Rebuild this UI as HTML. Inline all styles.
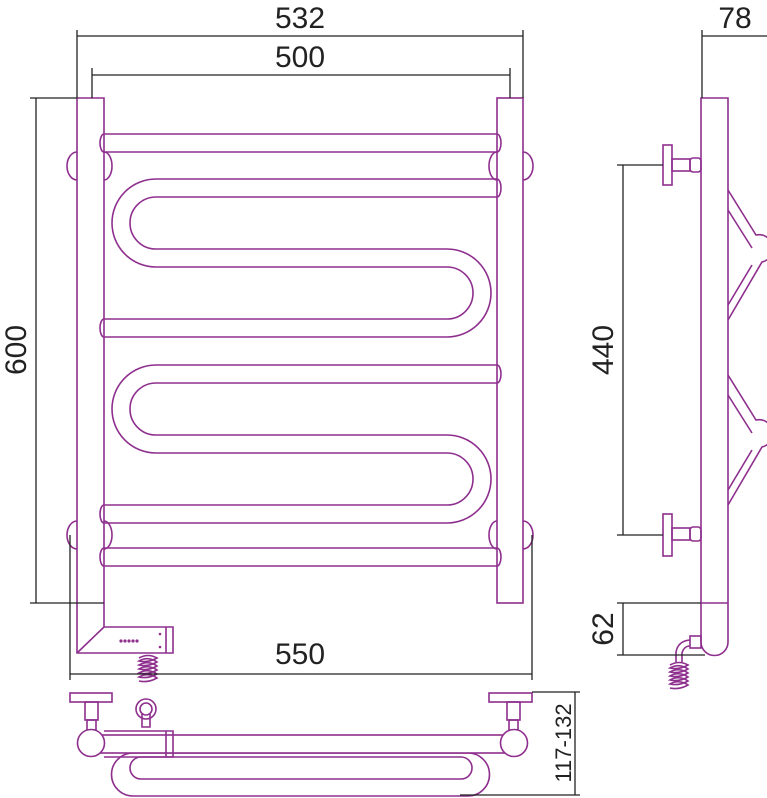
<!DOCTYPE html>
<html><head><style>html,body{margin:0;padding:0;background:#fff}svg{display:block}</style></head>
<body>
<svg width="767" height="798" viewBox="0 0 767 798" xmlns="http://www.w3.org/2000/svg">
<defs>
<g id="ser" fill="none">
<path d="M497,179 H156 A44,44 0 0 0 156,267 H447 A26,26 0 0 1 447,319 H104"/>
<path d="M497,197 H156 A26,26 0 0 0 156,249 H447 A44,44 0 0 1 447,337 H104"/>
<path d="M497,179 A4,9 0 0 1 497,197 M104,319 A4,9 0 0 0 104,337"/>
</g>
<g id="rail" fill="none">
<path d="M104,0 H497 M104,18 H497 M104,0 A4,9 0 0 0 104,18 M497,0 A4,9 0 0 1 497,18"/>
</g>
<g id="coil" fill="none">
<path d="M-9,0 Q0,-5 9,0 Q0,5 -9,3 Q0,-2 9,4 Q0,9 -9,7 Q0,2 9,8 Q0,13 -9,11 Q0,6 9,12 Q0,17 -9,15 Q0,10 9,16 Q0,21 -9,19 Q0,14 9,20 Q0,25 -9,23"/>
</g>
</defs>

<g stroke="#8e2f8e" stroke-width="1.6" fill="none">
<path d="M77,98 H104 V627 M77,98 V653 H173 V627 H104 M77,653 L104,627 M166,627 V653"/>
<rect x="497" y="98" width="26" height="505"/>
<path d="M77,152 A10,14 0 0 0 77,180 M104,152 A8,14 0 0 1 104,180 M497,152 A8,14 0 0 0 497,180 M523,152 A10,14 0 0 1 523,180"/>
<path d="M77,521 A10,14 0 0 0 77,549 M104,521 A8,14 0 0 1 104,549 M497,521 A8,14 0 0 0 497,549 M523,521 A10,14 0 0 1 523,549"/>
<use href="#rail" transform="translate(0,134)"/>
<use href="#ser"/>
<use href="#ser" transform="translate(0,186)"/>
<use href="#rail" transform="translate(0,548)"/>
<use href="#coil" transform="translate(148,658)"/>

<!-- top view -->
<path d="M133,753 H468 A21.5,21.5 0 0 1 468,796 H133 A21.5,21.5 0 0 1 133,753 Z"/>
<path d="M141,757 H461 A11,11 0 0 1 461,779 H141 A11,11 0 0 1 141,757 Z"/>
<rect x="70" y="693" width="42" height="9"/>
<rect x="85" y="702" width="13" height="18"/>
<rect x="87" y="720" width="9" height="10"/>
<rect x="489" y="693" width="43" height="9"/>
<rect x="507" y="702" width="13" height="18"/>
<rect x="509" y="720" width="9" height="10"/>
<rect x="91" y="735" width="423" height="18" fill="#fff"/>
<path d="M104,731 H173 V757 H104 M166,731 V757"/>
<circle cx="91" cy="743" r="13.5" fill="#fff"/>
<circle cx="514" cy="743" r="13.5" fill="#fff"/>
<circle cx="146" cy="709" r="10"/>
<circle cx="146" cy="709" r="6"/>
<path d="M142,714 V727 H150 V714"/>

<!-- side view -->
<path d="M701,98 H728 V642 A13.5,13.5 0 0 1 701,642 Z M701,603 H728"/>
<path d="M728,190 L756,235 A7,7 0 0 1 762,262 L728,320 M728,210 L752,248 M728,305 L752,265"/>
<path d="M728,375 L756,420 A7,7 0 0 1 762,447 L728,505 M728,395 L752,433 M728,490 L752,450"/>
<rect x="663" y="145" width="9" height="40"/>
<rect x="672" y="159" width="18" height="12"/>
<rect x="690" y="158" width="11" height="14" rx="3"/>
<rect x="663" y="514" width="9" height="42"/>
<rect x="672" y="528" width="18" height="12"/>
<rect x="690" y="527" width="11" height="14" rx="3"/>
<rect x="690" y="636" width="11" height="12"/>
<path d="M690,640 Q678,641 676,652 V662 M690,646 Q684,646 682,653 V662"/>
<use href="#coil" transform="translate(679,665)"/>
</g>

<g fill="#8e2f8e">
<circle cx="121" cy="641" r="1.6"/><circle cx="125" cy="641" r="1.6"/><circle cx="129" cy="641" r="1.6"/><circle cx="133" cy="641" r="1.6"/><circle cx="137" cy="641" r="1.6"/>
<circle cx="160" cy="634" r="1.3"/><circle cx="160" cy="647" r="1.3"/>
</g>

<g stroke="#222" stroke-width="1.3" fill="none">
<path d="M77,30 V98 M523,30 V98 M77,36 H523"/>
<path d="M92,68 V98 M510,68 V98 M92,75 H510"/>
<path d="M30,98 H77 M30,603 H104 M36,98 V603"/>
<path d="M70,535 V680 M532,535 V680 M70,674 H532"/>
<path d="M532,692 H580 M460,795 H580 M575,692 V795"/>
<path d="M702,30 V98 M702,36 H767"/>
<path d="M617,165 H663 M617,535 H663 M623,165 V535"/>
<path d="M617,603 H701 M617,655 H705 M623,603 V655"/>
</g>
<g font-family="Liberation Sans, sans-serif" font-size="30" fill="#222" text-anchor="middle">
<text x="300" y="28">532</text>
<text x="300" y="67">500</text>
<text x="300" y="664">550</text>
<text x="735" y="28">78</text>
<text transform="translate(26,350) rotate(-90)">600</text>
<text transform="translate(613,350) rotate(-90)">440</text>
<text transform="translate(613,629) rotate(-90)">62</text>
<text transform="translate(571,743) rotate(-90)" font-size="22">117-132</text>
</g>
</svg>
</body></html>
